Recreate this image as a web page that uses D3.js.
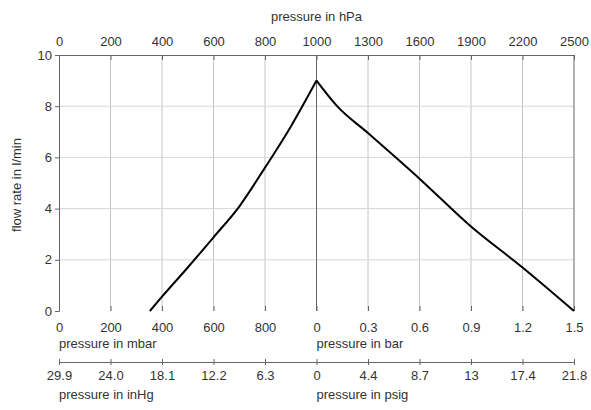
<!DOCTYPE html>
<html>
<head>
<meta charset="utf-8">
<script src="https://cdn.jsdelivr.net/npm/d3@7"></script>
<style>
  body { margin: 0; background: #fff; }
  svg { font-family: "Liberation Sans", Arial, sans-serif; }
  .title { fill: #333; font-size: 13px; }
</style>
</head>
<body>
<div id="chart"></div>
<script>
// data
var hpaTicks = [0, 200, 400, 600, 800, 1000, 1300, 1600, 1900, 2200, 2500];
var barLabels = ["0", "200", "400", "600", "800", "0", "0.3", "0.6", "0.9", "1.2", "1.5"];
var inHgLabels = ["29.9", "24.0", "18.1", "12.2", "6.3", "0", "4.4", "8.7", "13", "17.4", "21.8"];
var flowTicks = [0, 2, 4, 6, 8, 10];

var pressureHpa = [353, 400, 500, 600, 700, 800, 900, 1000, 1120, 1300, 1600, 1900, 2200, 2500];
var flowRate    = [0, 0.56, 1.7, 2.88, 4.08, 5.6, 7.2, 9.0, 8.0, 6.95, 5.17, 3.3, 1.7, 0];

var width = 591,
    height = 410;
var margin = { top: 55, right: 17, bottom: 99, left: 59 };
var w = width - margin.left - margin.right,
    h = height - margin.top - margin.bottom;

var svg = d3.select('#chart').append("svg")
    .attr("width", width)
    .attr("height", height)
    .append("g")
    .attr("transform", "translate(" + margin.left + "," + margin.top + ")");

// piecewise scale: 0-1000 on the left half, 1000-2500 on the right half
var x = d3.scaleLinear().domain([0, 1000, 2500]).range([0, w / 2, w]);
var y = d3.scaleLinear().domain([0, 10]).range([h, 0]);

// grid
svg.selectAll(".vgrid")
    .data(hpaTicks.filter(function (d) { return d != 0 && d != 1000 && d != 2500; }))
    .enter().append("line")
    .attr("x1", function (d) { return x(d); })
    .attr("x2", function (d) { return x(d); })
    .attr("y1", 0)
    .attr("y2", h)
    .style("stroke", "#c4c4c4");

svg.selectAll(".hgrid")
    .data(flowTicks.filter(function (d) { return d != 0 && d != 10; }))
    .enter().append("line")
    .attr("x1", 0)
    .attr("x2", w)
    .attr("y1", function (d) { return y(d); })
    .attr("y2", function (d) { return y(d); })
    .style("stroke", "#d6d6d6");

// middle and right frame lines
svg.append("line")
    .attr("x1", x(1000)).attr("x2", x(1000))
    .attr("y1", 0).attr("y2", h)
    .style("stroke", "#666");
svg.append("line")
    .attr("x1", x(2500)).attr("x2", x(2500))
    .attr("y1", 0).attr("y2", h)
    .style("stroke", "#666");

function styleAxis(g) {
    g.selectAll("path").style("stroke", "#666");
    g.selectAll("line").style("stroke", "#666");
    g.selectAll("text").style("font-size", "13px").style("fill", "#333");
    g.attr("font-family", null);
}

// top axis (hPa)
var topAxis = svg.append("g")
    .call(d3.axisTop(x).tickValues(hpaTicks).tickSizeInner(-5).tickSizeOuter(0).tickPadding(9).tickFormat(d3.format("d")));
styleAxis(topAxis);

// left axis
var leftAxis = svg.append("g")
    .call(d3.axisLeft(y).tickValues(flowTicks).tickSize(4).tickPadding(3));
styleAxis(leftAxis);

// bottom axis (mbar / bar)
var bottomAxis = svg.append("g")
    .attr("transform", "translate(0," + h + ")")
    .call(d3.axisBottom(x).tickValues(hpaTicks).tickSizeInner(-5).tickSizeOuter(0).tickPadding(12)
        .tickFormat(function (d, i) { return barLabels[i]; }));
styleAxis(bottomAxis);
bottomAxis.select(".domain").remove();

// second bottom axis (inHg / psig)
var axis2 = svg.append("g")
    .attr("transform", "translate(0," + (h + 51) + ")")
    .call(d3.axisBottom(x).tickValues(hpaTicks).tickSizeInner(3).tickSizeOuter(0).tickPadding(6)
        .tickFormat(function (d, i) { return inHgLabels[i]; }));
styleAxis(axis2);
axis2.selectAll(".tick line").attr("y1", -3);

// titles
svg.append("text").attr("class", "title")
    .attr("x", w / 2).attr("y", -34)
    .attr("text-anchor", "middle")
    .text("pressure in hPa");

svg.append("text").attr("class", "title")
    .attr("x", 0).attr("y", h + 37)
    .text("pressure in mbar");
svg.append("text").attr("class", "title")
    .attr("x", x(1000)).attr("y", h + 37)
    .text("pressure in bar");

svg.append("text").attr("class", "title")
    .attr("x", 0).attr("y", h + 88)
    .text("pressure in inHg");
svg.append("text").attr("class", "title")
    .attr("x", x(1000)).attr("y", h + 88)
    .text("pressure in psig");

svg.append("text").attr("class", "title")
    .attr("transform", "translate(-38," + (h / 2 + 2) + ") rotate(-90)")
    .attr("text-anchor", "middle")
    .text("flow rate in l/min");

// curve: vacuum side and pressure side, split at the peak
var lineData = pressureHpa.map(function (p, i) { return { p: p, f: flowRate[i] }; });
var peak = d3.maxIndex(flowRate);
var valueline = d3.line()
    .x(function (d) { return x(d.p); })
    .y(function (d) { return y(d.f); })
    .curve(d3.curveMonotoneX);

svg.selectAll(".curve")
    .data([lineData.slice(0, peak + 1), lineData.slice(peak)])
    .enter().append("path")
    .attr("class", "curve")
    .attr("d", valueline)
    .style("fill", "none")
    .style("stroke", "#000")
    .style("stroke-width", 2)
    .style("stroke-linejoin", "round");
</script>
</body>
</html>
